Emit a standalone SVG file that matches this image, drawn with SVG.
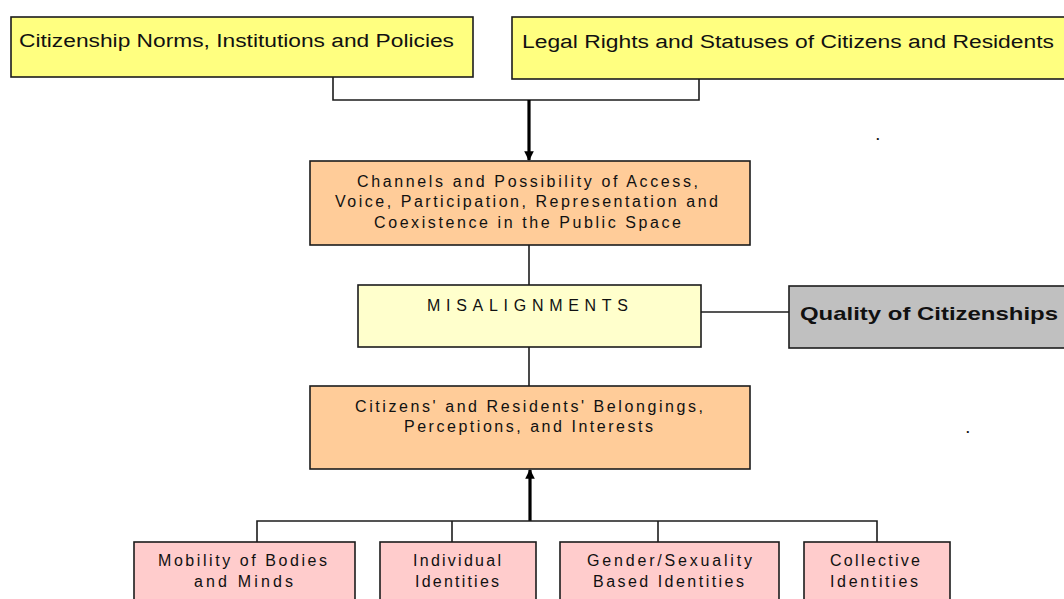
<svg xmlns="http://www.w3.org/2000/svg" width="1064" height="599" viewBox="0 0 1064 599">
<style>
.box{stroke:#1c1c1c;stroke-width:1.6}
.y{fill:#ffff80}
.o{fill:#ffcc99}
.ly{fill:#ffffcc}
.g{fill:#c0c0c0}
.p{fill:#ffcccc}
text{font-family:"Liberation Sans",Arial,sans-serif;fill:#111}
.t1{font-size:18px}
.t2{font-size:16px;text-anchor:middle}
.tb{font-size:19px;font-weight:bold}
.ln{stroke:#1c1c1c;stroke-width:1.6;fill:none}
.thick{stroke:#000;stroke-width:3.2;fill:none}
</style>
<defs>
<marker id="ah" viewBox="0 0 10 10" refX="9" refY="5" markerWidth="3" markerHeight="3" orient="auto" markerUnits="strokeWidth">
<path d="M0,0 L10,5 L0,10 z" fill="#000"/>
</marker>
</defs>
<rect width="1064" height="599" fill="#fff"/>
<g id="connectors">
<polyline class="ln" points="333,77 333,100 699,100 699,79"/>
<line class="thick" x1="529" y1="100" x2="529" y2="160" marker-end="url(#ah)"/>
<line class="ln" x1="529" y1="245" x2="529" y2="285"/>
<line class="ln" x1="529" y1="347" x2="529" y2="386"/>
<line class="ln" x1="701" y1="312" x2="789" y2="312"/>
<line class="thick" x1="530" y1="521" x2="530" y2="470" marker-end="url(#ah)"/>
<polyline class="ln" points="257,542 257,521 877,521 877,542"/>
<line class="ln" x1="452" y1="521" x2="452" y2="542"/>
<line class="ln" x1="658" y1="521" x2="658" y2="542"/>
</g>
<g id="n-norms">
<rect class="box y" x="11" y="17" width="462" height="60"/>
<text class="t1" x="19" y="47" textLength="435" lengthAdjust="spacingAndGlyphs">Citizenship Norms, Institutions and Policies</text>
</g>
<g id="n-legal">
<rect class="box y" x="512" y="17" width="560" height="62"/>
<text class="t1" x="522" y="48" textLength="532" lengthAdjust="spacingAndGlyphs">Legal Rights and Statuses of Citizens and Residents</text>
</g>
<g id="n-channels">
<rect class="box o" x="310" y="161" width="440" height="84"/>
<text class="t2" x="527.5" y="187" textLength="341" lengthAdjust="spacing">Channels and Possibility of Access,</text>
<text class="t2" x="526.5" y="207" textLength="383" lengthAdjust="spacing">Voice, Participation, Representation and</text>
<text class="t2" x="527.5" y="228" textLength="307" lengthAdjust="spacing">Coexistence in the Public Space</text>
</g>
<g id="n-misalign">
<rect class="box ly" x="358" y="285" width="343" height="62"/>
<text class="t2" x="527.5" y="311" textLength="201" lengthAdjust="spacing">MISALIGNMENTS</text>
</g>
<g id="n-quality">
<rect class="box g" x="789" y="286" width="290" height="62"/>
<text class="tb" x="800" y="320" textLength="258" lengthAdjust="spacingAndGlyphs">Quality of Citizenships</text>
</g>
<g id="n-belongings">
<rect class="box o" x="310" y="386" width="440" height="83"/>
<text class="t2" x="529" y="412" textLength="348" lengthAdjust="spacing">Citizens' and Residents' Belongings,</text>
<text class="t2" x="528.5" y="432" textLength="249" lengthAdjust="spacing">Perceptions, and Interests</text>
</g>
<g id="n-mobility">
<rect class="box p" x="134" y="542" width="221" height="70"/>
<text class="t2" x="242.5" y="566" textLength="169" lengthAdjust="spacing">Mobility of Bodies</text>
<text class="t2" x="243.5" y="587" textLength="99" lengthAdjust="spacing">and Minds</text>
</g>
<g id="n-individual">
<rect class="box p" x="380" y="542" width="156" height="70"/>
<text class="t2" x="457" y="566" textLength="88" lengthAdjust="spacing">Individual</text>
<text class="t2" x="457" y="587" textLength="84" lengthAdjust="spacing">Identities</text>
</g>
<g id="n-gender">
<rect class="box p" x="560" y="542" width="219" height="70"/>
<text class="t2" x="669.5" y="566" textLength="165" lengthAdjust="spacing">Gender/Sexuality</text>
<text class="t2" x="668.5" y="587" textLength="151" lengthAdjust="spacing">Based Identities</text>
</g>
<g id="n-collective">
<rect class="box p" x="804" y="542" width="146" height="70"/>
<text class="t2" x="875" y="566" textLength="90" lengthAdjust="spacing">Collective</text>
<text class="t2" x="874" y="587" textLength="88" lengthAdjust="spacing">Identities</text>
</g>
<text x="876" y="140" font-size="13" font-weight="bold">.</text>
<text x="966" y="433" font-size="13" font-weight="bold">.</text>
</svg>
